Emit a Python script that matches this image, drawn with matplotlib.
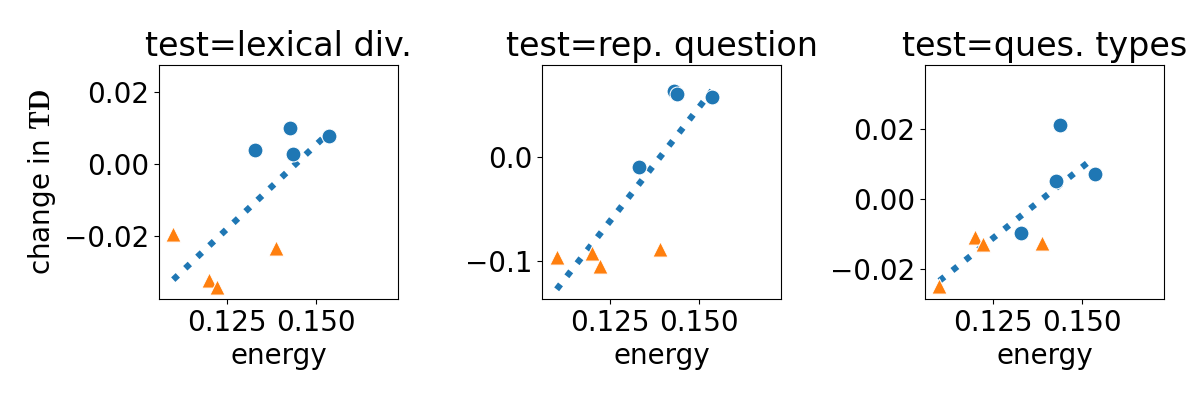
import matplotlib
matplotlib.use("Agg")
import matplotlib.pyplot as plt
import numpy as np

plt.rcParams['mathtext.fontset'] = 'cm'

tests = ["lexical div.", "rep. question", "ques. types"]

# energy of the two groups of models
energy_circ = [0.1330, 0.1428, 0.1437, 0.1536]
energy_tri = [0.1100, 0.1200, 0.1223, 0.1389]

# change in TD per test
change_circ = [
    [0.0039, 0.0100, 0.0028, 0.0078],
    [-0.0096, 0.0642, 0.0610, 0.0584],
    [-0.0096, 0.0052, 0.0212, 0.0072],
]
change_tri = [
    [-0.0193, -0.0323, -0.0342, -0.0233],
    [-0.0964, -0.0926, -0.1048, -0.0881],
    [-0.0249, -0.0110, -0.0129, -0.0126],
]

ylims = [(-0.0374, 0.0275), (-0.1364, 0.0893), (-0.0286, 0.0385)]
yticks = [[-0.02, 0.0, 0.02], [-0.1, 0.0], [-0.02, 0.0, 0.02]]
ylabels = [["\u22120.02", "0.00", "0.02"], ["\u22120.1", "0.0"], ["\u22120.02", "0.00", "0.02"]]

fig = plt.figure(figsize=(12, 4), dpi=100)
lefts = [0.1325, 0.452, 0.771]

for i, t in enumerate(tests):
    ax = fig.add_axes([lefts[i], 0.253, 0.199, 0.585])
    x = np.array(energy_circ + energy_tri)
    y = np.array(change_circ[i] + change_tri[i])
    k, b = np.polyfit(x, y, 1)
    xs = np.linspace(x.min(), x.max(), 50)
    ax.plot(xs, k * xs + b, ls=':', lw=4.5, color='#1f77b4', zorder=1)
    ax.scatter(energy_circ, change_circ[i], s=115, marker='o', color='#1f77b4',
               edgecolor='white', linewidth=0.75, zorder=2)
    ax.scatter(energy_tri, change_tri[i], s=120, marker='^', color='#ff7f0e',
               edgecolor='white', linewidth=0.75, zorder=2)
    ax.set_xlim(0.106, 0.173)
    ax.set_ylim(*ylims[i])
    ax.set_xticks([0.125, 0.150])
    ax.set_xticklabels(["0.125", "0.150"])
    ax.set_yticks(yticks[i])
    ax.set_yticklabels(ylabels[i])
    ax.tick_params(labelsize=20)
    ax.set_xlabel("energy", fontsize=20)
    ax.set_title("test=" + t, fontsize=24)
    if i == 0:
        ax.set_ylabel(r"change in $\mathbf{TD}$", fontsize=20)

fig.savefig("out.png", dpi=100)
